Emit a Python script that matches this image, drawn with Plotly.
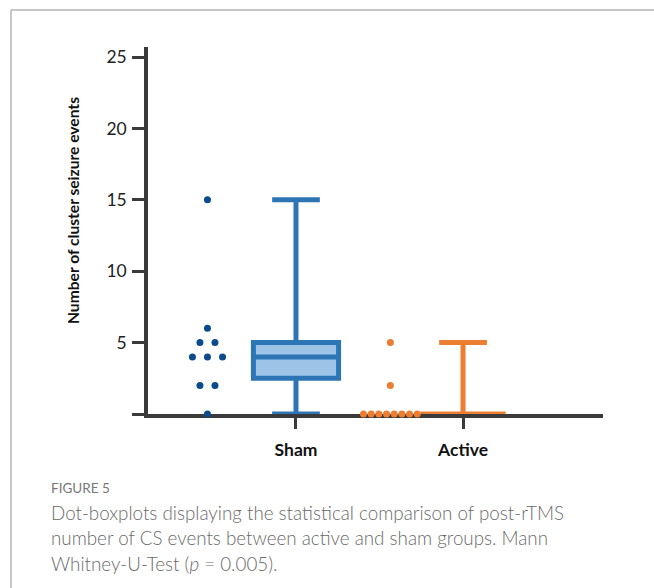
import numpy as np
import plotly.graph_objects as go

# ---- data ----
categories = ["Sham", "Active"]
sham_values = [15, 6, 5, 5, 4, 4, 4, 2, 2, 0]
active_values = [5, 2, 0, 0, 0, 0, 0, 0, 0, 0]
y_tick_values = [0, 5, 10, 15, 20, 25]
y_tick_labels = ["", "5", "10", "15", "20", "25"]
y_title = "Number of cluster seizure events"
fig_label = "FIGURE 5"
caption_lines = [
    "Dot-boxplots displaying the statistical comparison of post-rTMS",
    "number of CS events between active and sham groups. Mann",
    "Whitney-U-Test (<i>p</i> = 0.005).",
]

# ---- layout geometry (pixels) ----
W, H = 654, 588
L, R, T, B = 148, 603, 47, 414
X_RANGE = [-0.886, 1.838]
Y_RANGE = [0, 25.7]


def px(xp):
    return (xp - L) / (R - L)


def py(yp):
    return (B - yp) / (B - T)


def beeswarm(values, center, spacing):
    vals = np.asarray(values, dtype=float)
    xs = np.zeros(len(vals))
    for v in np.unique(vals):
        idx = np.where(vals == v)[0]
        k = len(idx)
        for j, i in enumerate(idx):
            xs[i] = center + (j - (k - 1) / 2) * spacing
    return xs


groups = [
    dict(name=categories[0], values=sham_values, pos=0, line="#2e75b6",
         fill="#9dc3e6", dot="#0b4a8b", dot_center=-0.53, dot_spacing=0.09),
    dict(name=categories[1], values=active_values, pos=1, line="#ed7d31",
         fill="#f4b183", dot="#ed7d31", dot_center=-0.435, dot_spacing=0.046),
]

fig = go.Figure()
for g in groups:
    v = np.asarray(g["values"], dtype=float)
    q1, med, q3 = np.percentile(v, [25, 50, 75])
    fig.add_trace(go.Box(
        x=[g["pos"]], q1=[q1], median=[med], q3=[q3],
        lowerfence=[v.min()], upperfence=[v.max()],
        width=0.51, whiskerwidth=0.56,
        line=dict(color=g["line"], width=5),
        fillcolor=g["fill"], boxpoints=False, name=g["name"],
        showlegend=False, hoverinfo="skip",
    ))
    fig.add_trace(go.Scatter(
        x=beeswarm(g["values"], g["pos"] + g["dot_center"], g["dot_spacing"]),
        y=g["values"], mode="markers",
        marker=dict(color=g["dot"], size=7, line=dict(width=0)),
        cliponaxis=False, showlegend=False, hoverinfo="skip",
    ))

axis_color = "#3a3a3a"
fig.update_layout(
    width=W, height=H,
    margin=dict(l=L, r=W - R, t=T, b=H - B, pad=0),
    paper_bgcolor="white", plot_bgcolor="white",
    font=dict(family="Lato", color="#222"),
    xaxis=dict(
        range=X_RANGE, tickvals=[g["pos"] for g in groups],
        ticktext=["<b>%s</b>" % c for c in categories],
        showline=True, linecolor=axis_color, linewidth=3.5,
        ticks="outside", ticklen=11, tickwidth=3, tickcolor=axis_color,
        showgrid=False, zeroline=False, layer="below traces",
        ticklabelstandoff=6,
        tickfont=dict(family="Lato", size=17.5, color="#111"),
    ),
    yaxis=dict(
        range=Y_RANGE, tickvals=y_tick_values, ticktext=y_tick_labels,
        showline=True, linecolor=axis_color, linewidth=3.5,
        ticks="outside", ticklen=12, tickwidth=3, tickcolor=axis_color,
        showgrid=False, zeroline=False, layer="below traces",
        ticklabelstandoff=2,
        tickfont=dict(family="Lato", size=17.5, color="#222"),
    ),
    shapes=[
        dict(type="line", xref="paper", yref="paper", x0=px(11), x1=px(W),
             y0=py(10), y1=py(10), line=dict(color="#b4b4b4", width=1.5)),
        dict(type="line", xref="paper", yref="paper", x0=px(11), x1=px(11),
             y0=py(10), y1=py(H), line=dict(color="#b4b4b4", width=1.5)),
    ],
)

ann = [
    dict(text="<b>%s</b>" % y_title, x=px(62), y=py(211), textangle=-90,
         font=dict(family="Lato", size=15.6, color="#111")),
    dict(text=fig_label, x=px(49), y=py(488), xanchor="left",
         font=dict(family="Lato", size=13.5, color="#777")),
]
for i, line in enumerate(caption_lines):
    ann.append(dict(text=line, x=px(49), y=py(512 + 25.5 * i), xanchor="left",
                    font=dict(family="Lato", size=18.8, color="#6a6a6a",
                              weight=300)))
for a in ann:
    a.update(xref="paper", yref="paper", showarrow=False,
             yanchor=a.get("yanchor", "middle"))
    fig.add_annotation(**a)

fig.write_html("out.html")
